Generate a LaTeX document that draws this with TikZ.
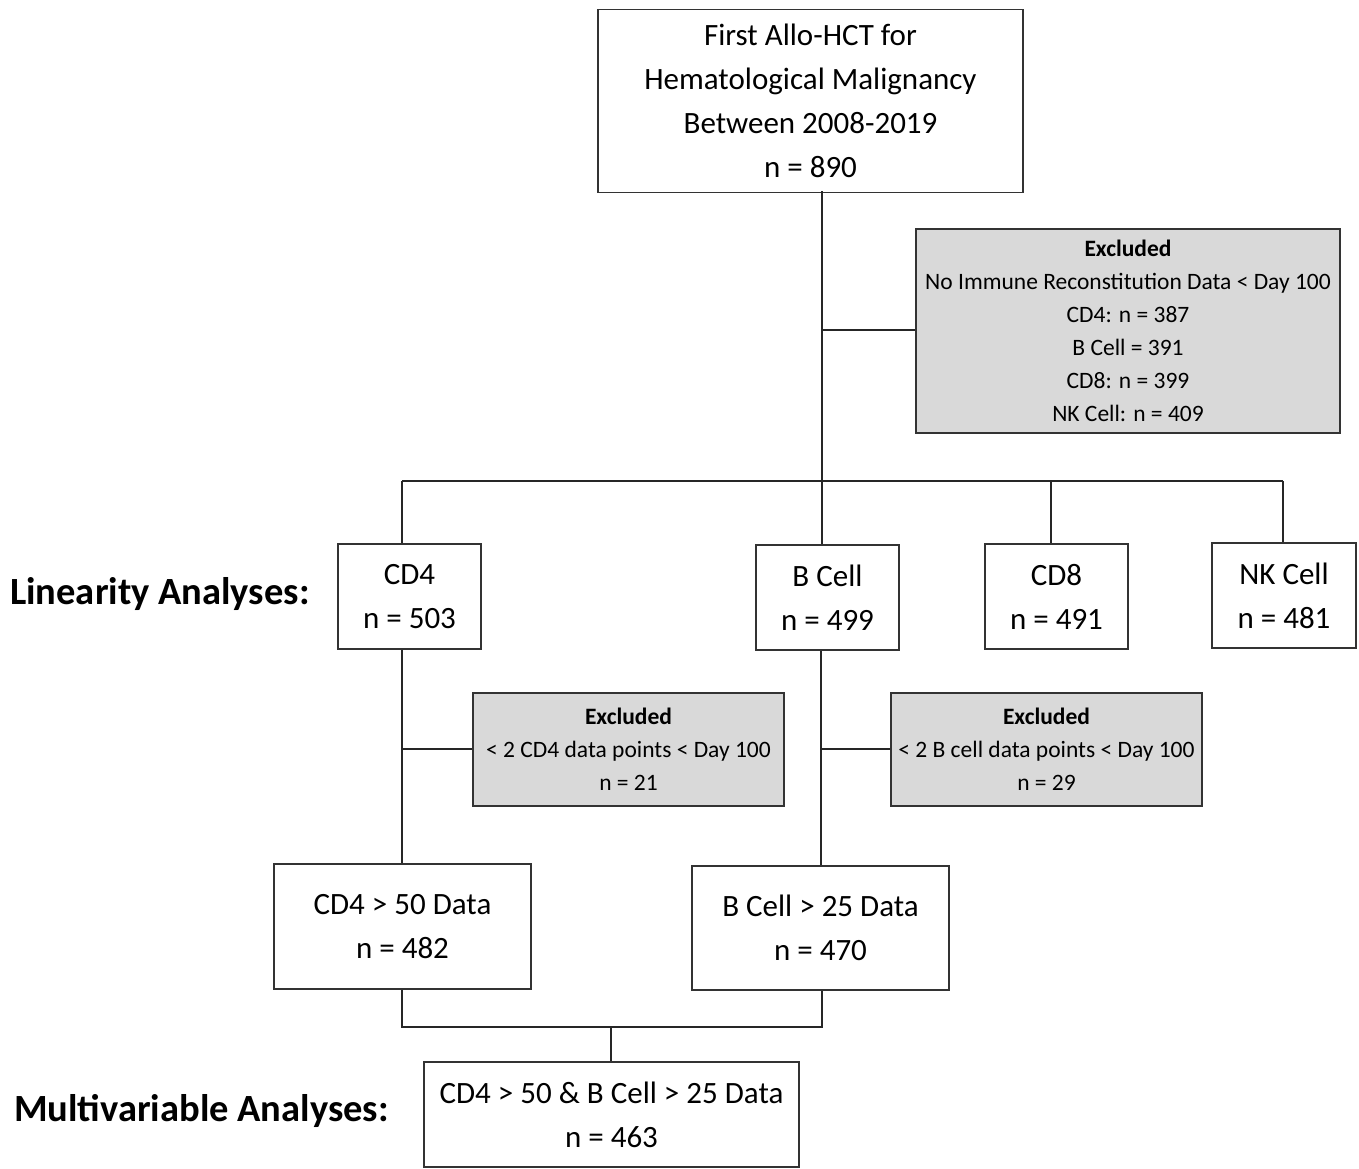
\documentclass[tikz,border=0pt]{standalone}
\usepackage{fontspec}
\setmainfont{Carlito}
\begin{document}
\begin{tikzpicture}[x=1pt,y=-1pt,
  box/.style={draw=black!80, line width=1.3pt, align=center, inner sep=0pt, fill=white},
  gbox/.style={box, fill=gray!30},
  big/.style={font=\fontsize{31}{44}\selectfont},
  small/.style={font=\fontsize{23.5}{33}\selectfont},
  lab/.style={font=\fontsize{38.5}{44}\selectfont\bfseries, anchor=west, inner sep=0pt},
  conn/.style={line width=1.5pt, black!85}]
\useasboundingbox (0,0) rectangle (1359,1168);

% boxes
\node[box, big, minimum width=425pt, minimum height=183pt] (top) at (810.5,101)
  {First Allo-HCT for\\Hematological Malignancy\\Between 2008-2019\\n = 890};
\node[gbox, small, minimum width=424pt, minimum height=204pt] (ex1) at (1128,331)
  {\textbf{Excluded}\\No Immune Reconstitution Data < Day 100\\CD4: n = 387\\B Cell = 391\\CD8: n = 399\\NK Cell: n = 409};

\node[box, big, minimum width=143pt, minimum height=105pt] (cd4) at (409.5,596.5) {CD4\\n = 503};
\node[box, big, minimum width=143pt, minimum height=105pt] (bcell) at (827.5,597.5) {B Cell\\n = 499};
\node[box, big, minimum width=143pt, minimum height=105pt] (cd8) at (1056.5,596.5) {CD8\\n = 491};
\node[box, big, minimum width=144pt, minimum height=105pt] (nk) at (1284,595.5) {NK Cell\\n = 481};

\node[gbox, small, minimum width=311pt, minimum height=113pt] (ex2) at (628.5,749.5)
  {\textbf{Excluded}\\< 2 CD4 data points < Day 100\\n = 21};
\node[gbox, small, minimum width=311pt, minimum height=113pt] (ex3) at (1046.5,749.5)
  {\textbf{Excluded}\\< 2 B cell data points < Day 100\\n = 29};

\node[box, big, minimum width=257pt, minimum height=125pt] (cd450) at (402.5,926.5) {CD4 > 50 Data\\n = 482};
\node[box, big, minimum width=257pt, minimum height=124pt] (b25) at (820.5,928) {B Cell > 25 Data\\n = 470};

\node[box, big, minimum width=375pt, minimum height=105pt] (multi) at (611.5,1114.5) {CD4 > 50 \& B Cell > 25 Data\\n = 463};

\node[lab] (linlab) at (10,594) {Linearity Analyses:};
\node[lab] (multlab) at (14,1111) {Multivariable Analyses:};

% junction coordinates
\coordinate (t0) at (822,191);
\coordinate (j1) at (822,330);
\coordinate (bus) at (822,481);
\coordinate (busL) at (402,481);
\coordinate (busR) at (1283,481);
\coordinate (b8) at (1051,481);
\coordinate (j2) at (402,749);
\coordinate (j3) at (821,749);
\coordinate (m0) at (402,1027);
\coordinate (m1) at (822,1027);
\coordinate (mc) at (611,1027);

% connectors
\draw[conn] (t0) -- (bus);
\draw[conn] (j1) -- (ex1.west |- j1);
\draw[conn] (busL) -- (busR);
\draw[conn] (busL) -- (busL |- cd4.north);
\draw[conn] (bus) -- (bus |- bcell.north);
\draw[conn] (b8) -- (b8 |- cd8.north);
\draw[conn] (busR) -- (busR |- nk.north);

\draw[conn] (j2 |- cd4.south) -- (j2 |- cd450.north);
\draw[conn] (j2) -- (ex2.west |- j2);
\draw[conn] (j3 |- bcell.south) -- (j3 |- b25.north);
\draw[conn] (j3) -- (ex3.west |- j3);

\draw[conn] (m0 |- cd450.south) -- (m0) -- (m1) -- (m1 |- b25.south);
\draw[conn] (mc) -- (mc |- multi.north);
\end{tikzpicture}
\end{document}
